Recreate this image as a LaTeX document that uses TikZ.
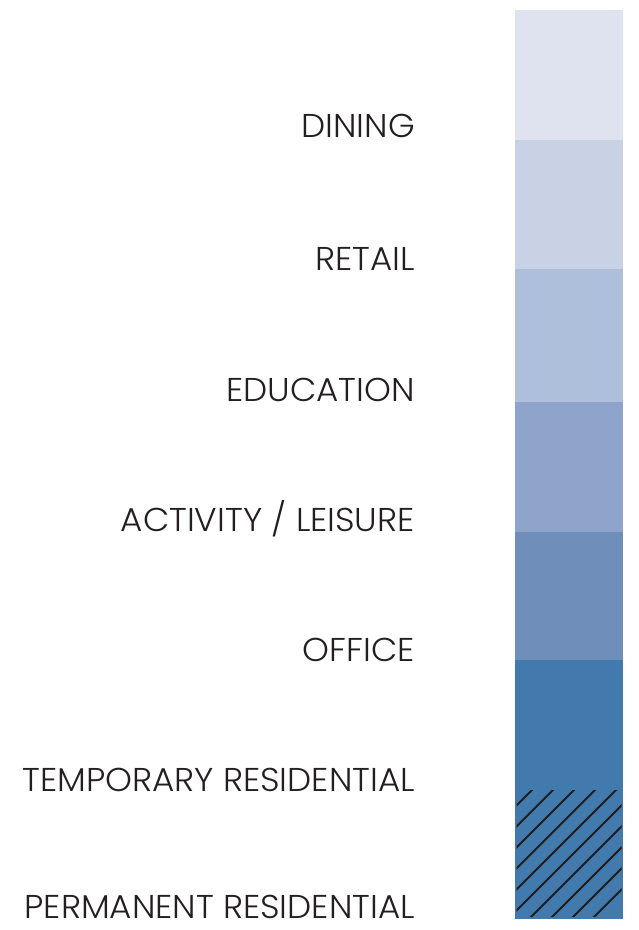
\documentclass[tikz,border=0pt]{standalone}
\usepackage{fontspec}
\setmainfont{Poppins}[UprightFont=* Light, FakeStretch=1.035]
\definecolor{cA}{HTML}{DFE3EF}
\definecolor{cB}{HTML}{C9D2E5}
\definecolor{cC}{HTML}{ADBFDA}
\definecolor{cD}{HTML}{8FA4CA}
\definecolor{cE}{HTML}{6F8EBA}
\definecolor{cF}{HTML}{437AAE}
\definecolor{txt}{HTML}{231F20}
\definecolor{hatchc}{HTML}{1E1E1E}
\tikzset{
  lbl/.style={anchor=base east, inner sep=0pt, text=txt, font=\fontsize{33}{37}\selectfont},
  seg/.style={draw=none, inner sep=0pt, minimum width=108pt, anchor=north west},
  hatchline/.style={draw=hatchc, line width=1.8pt, line cap=round}
}
\begin{document}
\begin{tikzpicture}[x=1pt,y=-1pt]
\useasboundingbox (0,0) rectangle (638,930);
\node[seg, fill=cA, minimum height=130pt] (s1) at (515,10) {};
\node[seg, fill=cB, minimum height=129pt] (s2) at (515,140) {};
\node[seg, fill=cC, minimum height=133pt] (s3) at (515,269) {};
\node[seg, fill=cD, minimum height=130pt] (s4) at (515,402) {};
\node[seg, fill=cE, minimum height=128pt] (s5) at (515,532) {};
\node[seg, fill=cF, minimum height=258.5pt] (s6) at (515,660) {};
\begin{scope}
\clip (516.7,790.7) rectangle (621.7,916.7);
\foreach \c in {1322,1343,1364,1385,1406,1427,1448,1469,1490,1511}
  \draw[hatchline] (\c-960,960) -- (\c-740,740);
\end{scope}
\node[lbl] (dining) at (415,137) {DINING};
\node[lbl] (retail) at (415,270) {RETAIL};
\node[lbl] (education) at (415,401) {EDUCATION};
\node[lbl] (activity) at (415,531) {ACTIVITY / LEISURE};
\node[lbl] (office) at (415,661) {OFFICE};
\node[lbl] (temporary) at (415,791) {TEMPORARY RESIDENTIAL};
\node[lbl] (permanent) at (415,918) {PERMANENT RESIDENTIAL};
\end{tikzpicture}
\end{document}
